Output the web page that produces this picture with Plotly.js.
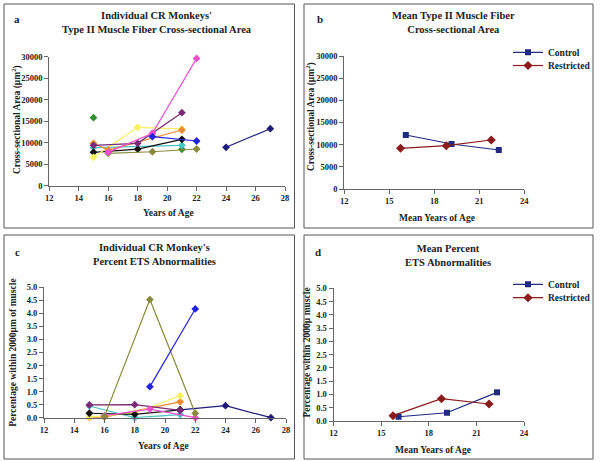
<!DOCTYPE html>
<html><head><meta charset="utf-8">
<script src="https://cdn.plot.ly/plotly-3.0.1.min.js"></script>
<style>html,body{margin:0;padding:0;background:#fff}#chart{width:600px;height:461px}</style>
</head><body><div id="chart"></div>
<script>
// ---------- Panel a: individual CR monkeys, Type II fibre cross-sectional area (µm²)
const greenAgeA  = [15, 18, 21];  const greenAreaA  = [15810, null, 8460];
const cyanAgeA   = [15, 21];      const cyanAreaA   = [8840, 9390];
const blackAgeA  = [15, 18, 21];  const blackAreaA  = [7760, 8500, 10790];
const yellowAgeA = [15, 18, 21];  const yellowAreaA = [6600, 13580, 13200];
const orangeAgeA = [15, 16, 21];  const orangeAreaA = [9860, 8300, 12950];
const oliveAgeA  = [16, 19, 22];  const oliveAreaA  = [7530, 7900, 8530];
const purpleAgeA = [15, 18, 21];  const purpleAreaA = [9400, 9860, 16980];
const pinkAgeA   = [16, 19, 22];  const pinkAreaA   = [7800, 12200, 29600];
const blueAgeA   = [19, 22];      const blueAreaA   = [11400, 10400];
const navyAgeA   = [24, 27];      const navyAreaA   = [8930, 13260];

// ---------- Panel c: individual CR monkeys, % ETS abnormalities
const navyAgeC   = [21, 24, 27];  const navyEtsC   = [0.30, 0.46, 0.00];
const cyanAgeC   = [15, 18, 21];  const cyanEtsC   = [0.45, 0.00, 0.12];
const orangeAgeC = [15, 16, 21];  const orangeEtsC = [0.00, 0.02, 0.61];
const yellowAgeC = [15, 18, 21];  const yellowEtsC = [0.02, 0.18, 0.84];
const blackAgeC  = [15, 18, 21];  const blackEtsC  = [0.17, 0.13, 0.30];
const purpleAgeC = [15, 18, 21];  const purpleEtsC = [0.49, 0.50, 0.28];
const pinkAgeC   = [16, 19, 22];  const pinkEtsC   = [0.08, 0.33, 0.00];
const oliveAgeC  = [16, 19, 22];  const oliveEtsC  = [0.05, 4.53, 0.17];
const blueAgeC   = [19, 22];      const blueEtsC   = [1.19, 4.17];

// ---------- Panels b & d: group means
const controlAge    = [16.1, 19.15, 22.3];
const controlArea   = [12180, 10150, 8800];
const controlEts    = [0.16, 0.31, 1.08];
const restrictedAge = [15.75, 18.8, 21.8];
const restrictedArea= [9180, 9770, 11050];
const restrictedEts = [0.20, 0.84, 0.64];

const W = 600, H = 461;
const px = x => x / W, py = y => 1 - y / H;
const FONT = 'Liberation Serif, Times New Roman, serif';
const TXT = '#222';
const AX = '#666';

function ind(x, y, color, xa, ya) {
  return {x: x, y: y, xaxis: xa, yaxis: ya, type: 'scatter', mode: 'lines+markers',
    connectgaps: false, cliponaxis: false, showlegend: false, hoverinfo: 'x+y',
    line: {color: color, width: 1.2},
    marker: {symbol: 'diamond', size: 6, color: color}};
}
const C = {green:'#2f8f2f', cyan:'#48c4c4', black:'#111111', yellow:'#f7f25a', orange:'#ef8a2e',
  olive:'#8a8a3c', purple:'#7a2a78', pink:'#f050d0', blue:'#2323e6', navy:'#1c1c78'};

const traces = [
  ind(greenAgeA, greenAreaA, C.green, 'x', 'y'),
  ind(cyanAgeA, cyanAreaA, C.cyan, 'x', 'y'),
  ind(blackAgeA, blackAreaA, C.black, 'x', 'y'),
  ind(yellowAgeA, yellowAreaA, C.yellow, 'x', 'y'),
  ind(orangeAgeA, orangeAreaA, C.orange, 'x', 'y'),
  ind(oliveAgeA, oliveAreaA, C.olive, 'x', 'y'),
  ind(purpleAgeA, purpleAreaA, C.purple, 'x', 'y'),
  ind(pinkAgeA, pinkAreaA, C.pink, 'x', 'y'),
  ind(blueAgeA, blueAreaA, C.blue, 'x', 'y'),
  ind(navyAgeA, navyAreaA, C.navy, 'x', 'y'),

  ind(navyAgeC, navyEtsC, C.navy, 'x3', 'y3'),
  ind(cyanAgeC, cyanEtsC, C.cyan, 'x3', 'y3'),
  ind(orangeAgeC, orangeEtsC, C.orange, 'x3', 'y3'),
  ind(yellowAgeC, yellowEtsC, C.yellow, 'x3', 'y3'),
  ind(blackAgeC, blackEtsC, C.black, 'x3', 'y3'),
  ind(purpleAgeC, purpleEtsC, C.purple, 'x3', 'y3'),
  ind(pinkAgeC, pinkEtsC, C.pink, 'x3', 'y3'),
  ind(oliveAgeC, oliveEtsC, C.olive, 'x3', 'y3'),
  ind(blueAgeC, blueEtsC, C.blue, 'x3', 'y3'),

  {x: controlAge, y: controlArea, xaxis: 'x2', yaxis: 'y2', name: 'Control', legend: 'legend',
   mode: 'lines+markers', cliponaxis: false, line: {color: '#1f2a80', width: 1.2},
   marker: {symbol: 'square', size: 6, color: '#1f2a80'}},
  {x: restrictedAge, y: restrictedArea, xaxis: 'x2', yaxis: 'y2', name: 'Restricted', legend: 'legend2',
   mode: 'lines+markers', cliponaxis: false, line: {color: '#8b1c1c', width: 1.2},
   marker: {symbol: 'diamond', size: 7, color: '#8b1c1c'}},
  {x: controlAge, y: controlEts, xaxis: 'x4', yaxis: 'y4', name: 'Control', legend: 'legend3',
   mode: 'lines+markers', cliponaxis: false, line: {color: '#1f2a80', width: 1.2},
   marker: {symbol: 'square', size: 6, color: '#1f2a80'}},
  {x: restrictedAge, y: restrictedEts, xaxis: 'x4', yaxis: 'y4', name: 'Restricted', legend: 'legend4',
   mode: 'lines+markers', cliponaxis: false, line: {color: '#8b1c1c', width: 1.2},
   marker: {symbol: 'diamond', size: 7, color: '#8b1c1c'}}
];

const tickFont = {family: FONT, size: 8.5, weight: 'bold', color: TXT};
function xax(d0, d1, r, dt, anchor) {
  return {domain: [px(d0), px(d1)], range: r, dtick: dt, tick0: r[0], anchor: anchor,
    showline: true, linecolor: AX, linewidth: 1, ticks: 'outside', ticklen: 4,
    tickcolor: AX, showgrid: false, zeroline: false, tickfont: tickFont, fixedrange: true};
}
function yax(bot, top, r, dt, anchor, fmt) {
  return {domain: [py(bot), py(top)], range: r, dtick: dt, tick0: 0, anchor: anchor,
    showline: true, linecolor: AX, linewidth: 1, ticks: 'outside', ticklen: 4,
    tickcolor: AX, showgrid: false, zeroline: false, tickfont: tickFont,
    tickformat: fmt, fixedrange: true};
}

function ann(text, x, y, size, angle) {
  return {text: text, xref: 'paper', yref: 'paper', x: px(x), y: py(y), xanchor: 'center',
    yanchor: 'middle', showarrow: false, textangle: angle || 0,
    font: {family: FONT, size: size, weight: 'bold', color: TXT}};
}
function border(x0, y0, x1, y1) {
  return {type: 'rect', xref: 'paper', yref: 'paper', x0: px(x0), x1: px(x1), y0: py(y0), y1: py(y1),
    line: {color: '#555', width: 1}, fillcolor: 'rgba(0,0,0,0)'};
}
function leg(x, y) {
  return {x: px(x), y: py(y), xanchor: 'left', yanchor: 'middle', bgcolor: 'rgba(0,0,0,0)',
    font: {family: FONT, size: 9.5, weight: 'bold', color: TXT}, itemwidth: 30, tracegroupgap: 0};
}

const layout = {
  width: W, height: H, margin: {l: 0, r: 0, t: 0, b: 0},
  paper_bgcolor: '#fff', plot_bgcolor: '#fff', showlegend: true,
  xaxis:  xax(49.3, 285, [12, 28], 2, 'y'),
  yaxis:  yax(185.7, 56.7, [0, 30000], 5000, 'x', 'd'),
  xaxis2: xax(344.3, 524.3, [12, 24], 3, 'y2'),
  yaxis2: yax(189, 56, [0, 30000], 5000, 'x2', 'd'),
  xaxis3: xax(44, 286, [12, 28], 2, 'y3'),
  yaxis3: yax(417.7, 287.3, [0, 5], 0.5, 'x3', '.1f'),
  xaxis4: xax(333.5, 524, [12, 24], 3, 'y4'),
  yaxis4: yax(421, 288.3, [0, 5], 0.5, 'x4', '.1f'),
  legend:  leg(508, 52.3),
  legend2: leg(508, 65.5),
  legend3: leg(508, 284.3),
  legend4: leg(508, 297.7),
  shapes: [border(4, 4, 294.5, 228), border(304, 4, 593, 228),
           border(4, 235, 294.5, 459), border(304, 235, 593, 459)],
  annotations: [
    ann('a', 17, 19, 11),
    ann("Individual CR Monkeys'<br>Type II Muscle Fiber Cross-sectional Area", 157, 22.5, 10.5),
    ann('Years of Age', 168, 213.3, 9.5),
    ann('Cross-sectional Area (µm<sup>2</sup>)', 16, 120, 9.5, -90),
    ann('b', 320, 19, 11),
    ann('Mean Type II Muscle Fiber<br>Cross-sectional Area', 453, 22.5, 10.5),
    ann('Mean Years of Age', 436.7, 218, 9.5),
    ann('Cross-sectional Area (µm<sup>2</sup>)', 311, 117, 9.5, -90),
    ann('c', 17, 252, 11),
    ann("Individual CR Monkey's<br>Percent ETS Abnormalities", 154, 254.7, 10.5),
    ann('Years of Age', 163, 446, 9.5),
    ann('Percentage within 2000µm of muscle', 12.7, 353, 9.5, -90),
    ann('d', 318, 252, 11),
    ann('Mean Percent<br>ETS Abnormalities', 448, 255, 10.5),
    ann('Mean Years of Age', 433, 450, 9.5),
    ann('Percentage within 2000µ muscle', 306.5, 353, 9.5, -90)
  ]
};

Plotly.newPlot('chart', traces, layout, {staticPlot: true, displayModeBar: false});
</script>
</body></html>
